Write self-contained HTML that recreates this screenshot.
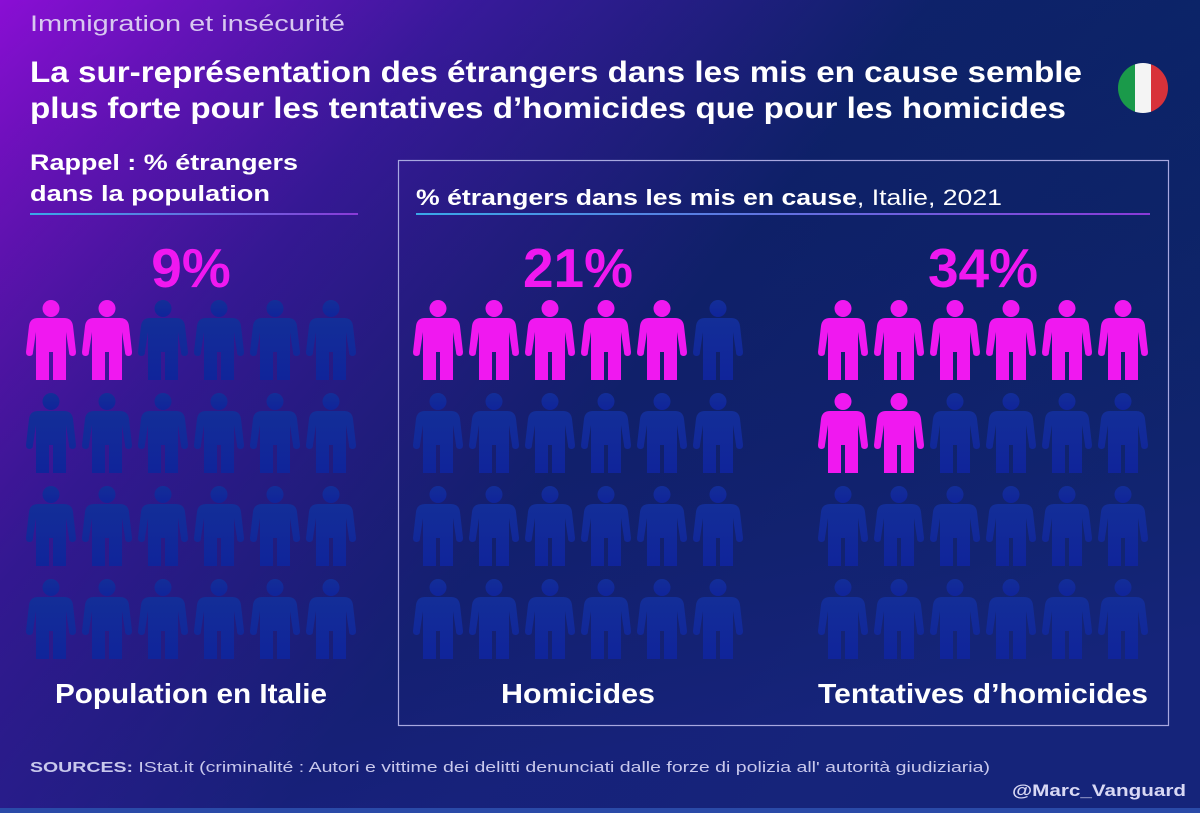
<!DOCTYPE html>
<html><head><meta charset="utf-8">
<style>
html,body{margin:0;padding:0;width:1200px;height:813px;overflow:hidden;background:#0b2466}
svg{display:block}
text{font-family:"Liberation Sans",sans-serif}
</style></head>
<body>
<svg id="chart" width="1200" height="813" viewBox="0 0 1200 813" xmlns="http://www.w3.org/2000/svg">
<defs>
<linearGradient id="bg" x1="0" y1="0" x2="1" y2="0.55">
<stop offset="0" stop-color="#8a0ed4"/>
<stop offset="0.3" stop-color="#3a1aa0"/>
<stop offset="0.6" stop-color="#0e2470"/>
<stop offset="1" stop-color="#0a2a6e"/>
</linearGradient>
<linearGradient id="bg2" x1="0" y1="0" x2="0.3" y2="1">
<stop offset="0" stop-color="#000" stop-opacity="0"/>
<stop offset="1" stop-color="#2a1a90" stop-opacity="0.35"/>
</linearGradient>
<linearGradient id="ul" x1="0" y1="0" x2="1" y2="0">
<stop offset="0" stop-color="#3aa8e8"/>
<stop offset="1" stop-color="#8a3ad8"/>
</linearGradient>
<linearGradient id="blueIcon" x1="0" y1="0" x2="0" y2="1">
<stop offset="0" stop-color="#132e98"/>
<stop offset="1" stop-color="#10249a"/>
</linearGradient>
<clipPath id="flagclip"><circle cx="1143" cy="88" r="25"/></clipPath>
</defs>
<rect x="0" y="0" width="1200" height="813" fill="url(#bg)"/>
<rect x="0" y="0" width="1200" height="813" fill="url(#bg2)"/>
<rect x="0" y="808" width="1200" height="5" fill="#2a4aa8"/>

<text x="30" y="31" font-size="22" fill="#d8c8f0" textLength="315" lengthAdjust="spacingAndGlyphs">Immigration et insécurité</text>
<text x="30" y="82" font-size="30" font-weight="bold" fill="#fff" textLength="1052" lengthAdjust="spacingAndGlyphs">La sur-représentation des étrangers dans les mis en cause semble</text>
<text x="30" y="118" font-size="30" font-weight="bold" fill="#fff" textLength="1036" lengthAdjust="spacingAndGlyphs">plus forte pour les tentatives d’homicides que pour les homicides</text>

<g clip-path="url(#flagclip)">
<rect x="1118" y="63" width="17" height="50" fill="#1a9a4a"/>
<rect x="1135" y="63" width="16" height="50" fill="#f4f4f4"/>
<rect x="1151" y="63" width="17" height="50" fill="#d8323a"/>
</g>

<text x="30" y="170" font-size="22" font-weight="bold" fill="#fff" textLength="268" lengthAdjust="spacingAndGlyphs">Rappel : % étrangers</text>
<text x="30" y="201" font-size="22" font-weight="bold" fill="#fff" textLength="240" lengthAdjust="spacingAndGlyphs">dans la population</text>
<rect x="30" y="213" width="328" height="2" fill="url(#ul)"/>

<rect x="398.5" y="160.5" width="770" height="565" fill="none" stroke="#a8a8e0" stroke-width="1.2"/>
<text x="416" y="205" font-size="22" fill="#fff" textLength="586" lengthAdjust="spacingAndGlyphs"><tspan font-weight="bold">% étrangers dans les mis en cause</tspan>, Italie, 2021</text>
<rect x="416" y="213" width="734" height="2" fill="url(#ul)"/>

<g id="groups"></g>

<text x="30" y="772" font-size="15" fill="#c8c8ec" textLength="960" lengthAdjust="spacingAndGlyphs"><tspan font-weight="bold">SOURCES:</tspan> IStat.it (criminalité : Autori e vittime dei delitti denunciati dalle forze di polizia all' autorità giudiziaria)</text>
<text x="1186" y="796" font-size="17" font-weight="bold" fill="#d8d8f4" text-anchor="end" textLength="174" lengthAdjust="spacingAndGlyphs">@Marc_Vanguard</text>
</svg>
<script>
const categories = ["Population en Italie", "Homicides", "Tentatives d’homicides"];
const percentages = [9, 21, 34];
const pctLabels = ["9%", "21%", "34%"];
const totalIcons = 24;

const NS = "http://www.w3.org/2000/svg";
const groupX = [28, 415, 820];
const colStep = 56, rowStep = 93, topY = 300, cols = 6;
const labelWidths = [272, 154, 330];
const iconPath = "M10,18 H36 Q44,18 45,26 L48,52 Q48,56 44.5,56 Q41,56 41,52 L38,32 V80 H25 V52 H21 V80 H8 V32 L5,52 Q5,56 1.5,56 Q-2,56 -2,52 L1,26 Q2,18 10,18 Z";
const root = document.getElementById("groups");

categories.forEach((cat, gi) => {
  const g = document.createElementNS(NS, "g");
  
  
  const filled = Math.round(percentages[gi] / 100 * totalIcons);
  for (let i = 0; i < totalIcons; i++) {
    const c = i % cols, r = Math.floor(i / cols);
    const ic = document.createElementNS(NS, "g");
    
    
    ic.setAttribute("transform", `translate(${groupX[gi] + c * colStep},${topY + r * rowStep})`);
    const fill = i < filled ? "#f018f0" : "url(#blueIcon)";
    const head = document.createElementNS(NS, "circle");
    head.setAttribute("cx", 23); head.setAttribute("cy", 8.5); head.setAttribute("r", 8.5);
    head.setAttribute("fill", fill);
    const body = document.createElementNS(NS, "path");
    body.setAttribute("d", iconPath);
    body.setAttribute("fill", fill);
    ic.appendChild(head); ic.appendChild(body);
    g.appendChild(ic);
  }
  const cx = groupX[gi] + (cols - 1) * colStep / 2 + 23;
  const pct = document.createElementNS(NS, "text");
  
  
  pct.setAttribute("x", cx); pct.setAttribute("y", 287);
  pct.setAttribute("text-anchor", "middle");
  pct.setAttribute("font-size", "55"); pct.setAttribute("font-weight", "bold");
  pct.setAttribute("fill", "#f018f0");
  pct.textContent = pctLabels[gi];
  g.appendChild(pct);
  const lab = document.createElementNS(NS, "text");
  
  
  lab.setAttribute("x", cx); lab.setAttribute("y", 703);
  lab.setAttribute("text-anchor", "middle");
  lab.setAttribute("font-size", "28"); lab.setAttribute("font-weight", "bold");
  lab.setAttribute("fill", "#fff");
  lab.setAttribute("textLength", labelWidths[gi]);
  lab.setAttribute("lengthAdjust", "spacingAndGlyphs");
  lab.textContent = cat;
  g.appendChild(lab);
  root.appendChild(g);
});
</script>
</body></html>
